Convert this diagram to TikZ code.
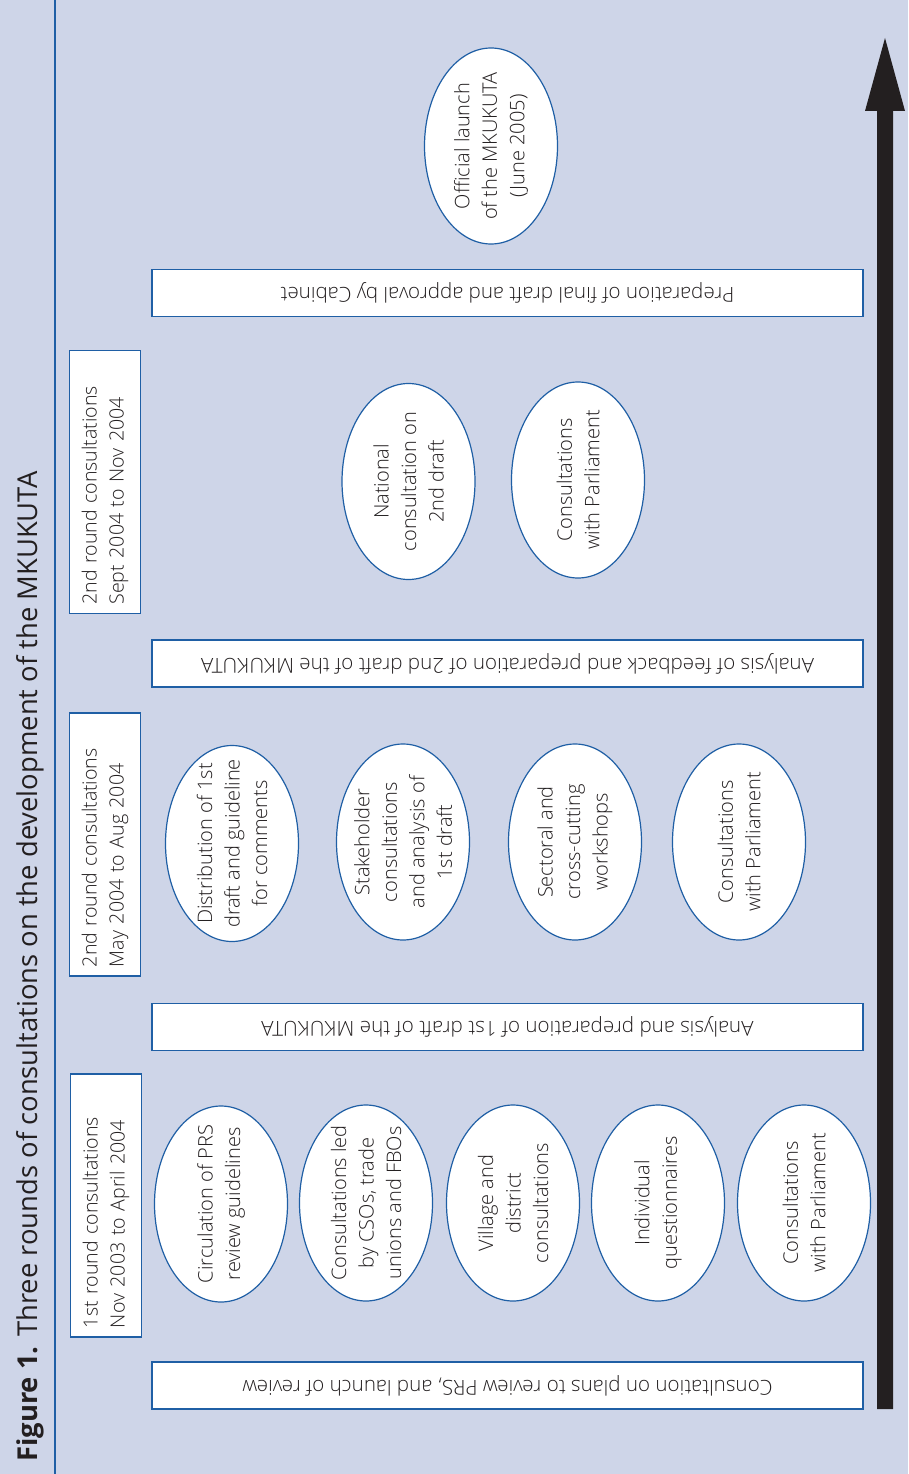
\documentclass[tikz,border=0pt]{standalone}
\usepackage{fontspec}
\IfFontExistsTF{Open Sans Light}{\setmainfont{Open Sans Light}[BoldFont={Open Sans Bold}]}{\setmainfont{Open Sans}}
\newfontfamily\titlefont{Open Sans}
\usetikzlibrary{shapes.geometric}
\definecolor{bg}{HTML}{CED5E8}
\definecolor{edge}{HTML}{1F5FA5}
\definecolor{ink}{HTML}{231F20}
\tikzset{
  ell/.style={ellipse, draw=edge, fill=white, line width=1.2pt,
    minimum width=196pt, minimum height=133pt, inner sep=-30pt,
    rotate=90, align=center, text=ink, font=\fontsize{20}{27.5}\selectfont},
  roundbox/.style={rectangle, draw=edge, fill=white, line width=1.3pt,
    minimum width=263pt, minimum height=71pt, inner sep=0pt,
    text width=245pt, rotate=90, align=left, text=ink, font=\fontsize{19.6}{27}\selectfont},
  widebox/.style={rectangle, draw=edge, fill=white, line width=1.3pt,
    minimum width=711pt, minimum height=47pt, inner sep=0pt,
    rotate=180, align=center, text=ink, font=\fontsize{20.6}{24}\selectfont},
}
\begin{document}
\begin{tikzpicture}[x=1pt,y=-1pt]
\fill[bg] (0,0) rectangle (908,1474);
\useasboundingbox (0,0) rectangle (908,1474);
% divider
\coordinate (divtop) at (55,0);
\coordinate (divbot) at (55,1474);
\draw[edge, line width=1.3pt] (divtop) -- (divbot);
% title
\node[rotate=90, anchor=west, inner sep=0pt, text=ink, font=\titlefont\fontsize{27.4}{32}\selectfont]
  (title) at (30,1462) {\textbf{Figure 1.} Three rounds of consultations on the development of the MKUKUTA};
% arrow
\fill[ink] (877,1409) -- (877,111) -- (865,111) -- (885,38) -- (905,111) -- (893,111) -- (893,1409) -- cycle;
% wide boxes
\node[widebox] (w1) at (507.5,1385.5) {Consultation on plans to review PRS, and launch of review};
\node[widebox] (w2) at (507.5,1027) {Analysis and preparation of 1st draft of the MKUKUTA};
\node[widebox] (w3) at (507.5,663.5) {Analysis of feedback and preparation of 2nd draft of the MKUKUTA};
\node[widebox] (w4) at (507.5,293) {Preparation of final draft and approval by Cabinet};
% round boxes
\node[roundbox] (r1) at (106,1205.5) {1st round consultations\\Nov 2003 to April 2004};
\node[roundbox] (r2) at (105,844.5) {2nd round consultations\\May 2004 to Aug 2004};
\node[roundbox] (r3) at (105,482) {2nd round consultations\\Sept 2004 to Nov 2004};
% round 1
\node[ell] (a1) at (221,1204) {Circulation of PRS\\review guidelines};
\node[ell] (a2) at (366,1203) {Consultations led\\by CSOs, trade\\unions and FBOs};
\node[ell] (a3) at (513,1203) {Village and\\district\\consultations};
\node[ell] (a4) at (658,1203) {Individual\\questionnaires};
\node[ell] (a5) at (804,1203) {Consultations\\with Parliament};
% round 2
\node[ell] (b1) at (232,843.5) {Distribution of 1st\\draft and guideline\\for comments};
\node[ell] (b2) at (403,842) {Stakeholder\\consultations\\and analysis of\\1st draft};
\node[ell] (b3) at (575,842) {Sectoral and\\cross-cutting\\workshops};
\node[ell] (b4) at (739,842) {Consultations\\with Parliament};
% round 3
\node[ell] (c1) at (408.5,481.5) {National\\consultation on\\2nd draft};
\node[ell] (c2) at (578,480) {Consultations\\with Parliament};
% launch
\node[ell] (d1) at (491,146) {Official launch\\of the MKUKUTA\\(June 2005)};
\end{tikzpicture}
\end{document}
